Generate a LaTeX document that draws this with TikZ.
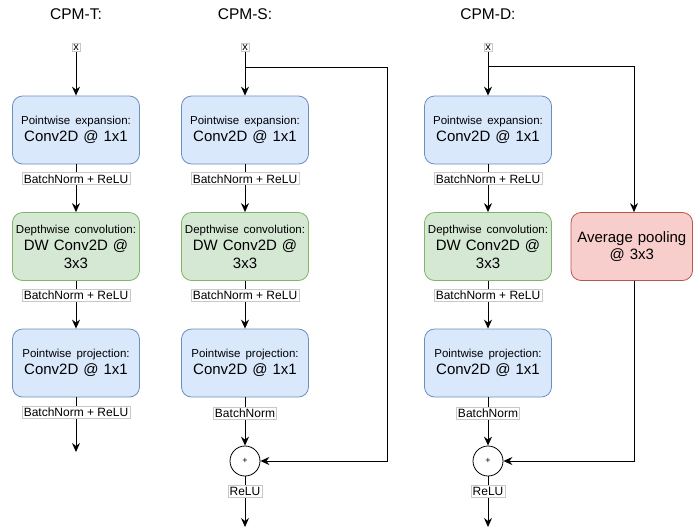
\documentclass[tikz,border=0pt]{standalone}
\usepackage{fontspec}
\setmainfont{Liberation Sans}
\usetikzlibrary{arrows.meta}
\definecolor{bfill}{HTML}{DAE8FC}\definecolor{bdraw}{HTML}{6C8EBF}
\definecolor{gfill}{HTML}{D5E8D4}\definecolor{gdraw}{HTML}{82B366}
\definecolor{rfill}{HTML}{F8CECC}\definecolor{rdraw}{HTML}{B85450}
\definecolor{lblline}{HTML}{C8C8C8}
\tikzset{
  blk/.style={rounded corners=10pt, minimum width=127pt, minimum height=68pt, inner sep=0pt, align=center, text width=125pt, line width=0.8pt, font=\fontsize{15}{17.5}\selectfont},
  blue/.style={blk, fill=bfill, draw=bdraw},
  green/.style={blk, fill=gfill, draw=gdraw},
  red/.style={blk, fill=rfill, draw=rdraw, minimum width=121.5pt, text width=118pt},
  lbl/.style={fill=white, draw=lblline, line width=0.5pt, inner sep=1.6pt, font=\fontsize{12}{14}\selectfont},
  xlbl/.style={fill=white, draw=lblline, line width=0.5pt, inner sep=1.2pt, font=\fontsize{11}{12}\selectfont},
  ttl/.style={font=\fontsize{15.5}{18}\selectfont},
  plus/.style={circle, draw, line width=0.8pt, minimum size=30pt, inner sep=0pt, font=\fontsize{9}{10}\selectfont},
  arr/.style={line width=0.9pt, -{Stealth[length=9pt,width=8pt,inset=3pt]}},
}
\newcommand{\smalltxt}[1]{{\fontsize{11.5}{16}\selectfont #1}}
\begin{document}
\begin{tikzpicture}[x=1pt,y=-1pt]
\useasboundingbox (0,0) rectangle (693,531);
% titles
\node[ttl] (tT) at (76,14) {CPM-T:};
\node[ttl] (tS) at (245,14) {CPM-S:};
\node[ttl] (tD) at (488,14) {CPM-D:};

% ---------- CPM-T ----------
\node[xlbl] (xT) at (76,47.5) {x};
\node[blue] (t1) at (76,130) {\smalltxt{Pointwise expansion:}\\Conv2D @ 1x1};
\node[green] (t2) at (76,246.5) {\smalltxt{Depthwise convolution:}\\DW Conv2D @\\3x3};
\node[blue] (t3) at (76,363) {\smalltxt{Pointwise projection:}\\Conv2D @ 1x1};
\coordinate (tEnd) at (76,452);
\draw[arr] (xT) -- (t1);
\draw[arr] (t1) -- node[lbl,pos=0.3] {BatchNorm + ReLU} (t2);
\draw[arr] (t2) -- node[lbl,pos=0.3] {BatchNorm + ReLU} (t3);
\draw[arr] (t3) -- node[lbl,pos=0.28] {BatchNorm + ReLU} (tEnd);

% ---------- CPM-S ----------
\node[xlbl] (xS) at (245,47.5) {x};
\node[blue] (s1) at (245,130) {\smalltxt{Pointwise expansion:}\\Conv2D @ 1x1};
\node[green] (s2) at (245,246.5) {\smalltxt{Depthwise convolution:}\\DW Conv2D @\\3x3};
\node[blue] (s3) at (245,363) {\smalltxt{Pointwise projection:}\\Conv2D @ 1x1};
\node[plus] (pS) at (245,461) {+};
\coordinate (sEnd) at (245,527);
\coordinate (sBr) at (245,67);
\coordinate (sR1) at (387,67);
\coordinate (sR2) at (387,461);
\draw[arr] (xS) -- (s1);
\draw[arr] (s1) -- node[lbl,pos=0.3] {BatchNorm + ReLU} (s2);
\draw[arr] (s2) -- node[lbl,pos=0.3] {BatchNorm + ReLU} (s3);
\draw[arr] (s3) -- node[lbl,pos=0.33] {BatchNorm} (pS);
\draw[arr] (pS) -- node[lbl,pos=0.29] {ReLU} (sEnd);
\draw[arr] (sBr) -- (sR1) -- (sR2) -- (pS);

% ---------- CPM-D ----------
\node[xlbl] (xD) at (488,47.5) {x};
\node[blue] (d1) at (488,130) {\smalltxt{Pointwise expansion:}\\Conv2D @ 1x1};
\node[green] (d2) at (488,246.5) {\smalltxt{Depthwise convolution:}\\DW Conv2D @\\3x3};
\node[blue] (d3) at (488,363) {\smalltxt{Pointwise projection:}\\Conv2D @ 1x1};
\node[red] (ap) at (631.8,246.5) {Average pooling\\@ 3x3};
\node[plus] (pD) at (488,461) {+};
\coordinate (dEnd) at (488,527);
\coordinate (dBr) at (488,66);
\coordinate (dR1) at (634,66);
\coordinate (dR2) at (634,461);
\draw[arr] (xD) -- (d1);
\draw[arr] (d1) -- node[lbl,pos=0.3] {BatchNorm + ReLU} (d2);
\draw[arr] (d2) -- node[lbl,pos=0.3] {BatchNorm + ReLU} (d3);
\draw[arr] (d3) -- node[lbl,pos=0.33] {BatchNorm} (pD);
\draw[arr] (pD) -- node[lbl,pos=0.29] {ReLU} (dEnd);
\draw[arr] (dBr) -- (dR1) -- (dR1 |- ap.north);
\draw[arr] (dR1 |- ap.south) -- (dR2) -- (pD);
\end{tikzpicture}
\end{document}
